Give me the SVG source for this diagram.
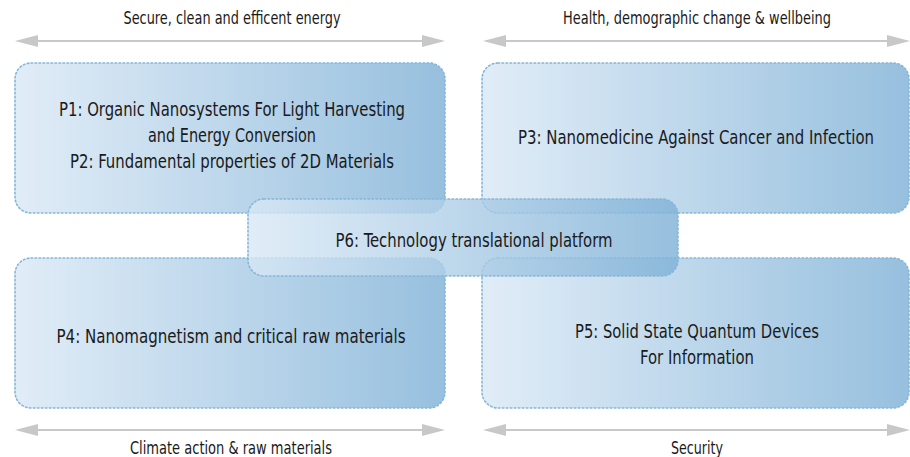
<svg xmlns="http://www.w3.org/2000/svg" width="910" height="457" viewBox="0 0 910 457">
<defs>
<linearGradient id="g" x1="0" y1="0" x2="1" y2="0">
<stop offset="0" stop-color="#d9e8f5" stop-opacity="0.8"/>
<stop offset="1" stop-color="#80b2d7" stop-opacity="0.82"/>
</linearGradient>
<style>
.box{fill:url(#g);stroke:#86b6d8;stroke-width:1.6;stroke-dasharray:1.6 2.4;stroke-linecap:round}
.t{font-family:"DejaVu Sans Condensed","Liberation Sans Narrow","Roboto",sans-serif;fill:#1a1a1a;text-anchor:middle}
.nt{font-size:19.5px}
.lt{font-size:17px}
.ar{stroke:#c8c8c8;stroke-width:2;fill:none}
.ah{fill:#c8c8c8}
</style>
</defs>
<rect width="910" height="457" fill="#ffffff"/>
<g id="connectors">
<g id="arrow-top-left"><line class="ar" x1="30" y1="41" x2="430" y2="41"/><polygon class="ah" points="15,41 38,35 38,47"/><polygon class="ah" points="445,41 422,35 422,47"/></g>
<g id="arrow-top-right"><line class="ar" x1="498" y1="41" x2="895" y2="41"/><polygon class="ah" points="483,41 506,35 506,47"/><polygon class="ah" points="910,41 887,35 887,47"/></g>
<g id="arrow-bottom-left"><line class="ar" x1="30" y1="430" x2="430" y2="430"/><polygon class="ah" points="15,430 38,424 38,436"/><polygon class="ah" points="445,430 422,424 422,436"/></g>
<g id="arrow-bottom-right"><line class="ar" x1="498" y1="430" x2="895" y2="430"/><polygon class="ah" points="483,430 506,424 506,436"/><polygon class="ah" points="910,430 887,424 887,436"/></g>
</g>
<g id="label-top-left"><text class="t lt" x="232" y="24" textLength="217" lengthAdjust="spacingAndGlyphs">Secure, clean and efficent energy</text></g>
<g id="label-top-right"><text class="t lt" x="697" y="24" textLength="268" lengthAdjust="spacingAndGlyphs">Health, demographic change &amp; wellbeing</text></g>
<g id="label-bottom-left"><text class="t lt" x="231" y="454" textLength="202" lengthAdjust="spacingAndGlyphs">Climate action &amp; raw materials</text></g>
<g id="label-bottom-right"><text class="t lt" x="697" y="454" textLength="52" lengthAdjust="spacingAndGlyphs">Security</text></g>
<g id="P1P2"><rect class="box" x="15" y="63" width="430" height="150" rx="16"/>
<text class="t nt" x="232" y="116" textLength="346" lengthAdjust="spacingAndGlyphs">P1: Organic Nanosystems For Light Harvesting</text>
<text class="t nt" x="232" y="142" textLength="168" lengthAdjust="spacingAndGlyphs">and Energy Conversion</text>
<text class="t nt" x="232" y="168" textLength="324" lengthAdjust="spacingAndGlyphs">P2: Fundamental properties of 2D Materials</text></g>
<g id="P3"><rect class="box" x="482" y="63" width="427" height="150" rx="16"/>
<text class="t nt" x="696" y="144" textLength="356" lengthAdjust="spacingAndGlyphs">P3: Nanomedicine Against Cancer and Infection</text></g>
<g id="P4"><rect class="box" x="15" y="258" width="430" height="150" rx="16"/>
<text class="t nt" x="231" y="343" textLength="349" lengthAdjust="spacingAndGlyphs">P4: Nanomagnetism and critical raw materials</text></g>
<g id="P5"><rect class="box" x="482" y="258" width="427" height="150" rx="16"/>
<text class="t nt" x="697" y="338" textLength="244" lengthAdjust="spacingAndGlyphs">P5: Solid State Quantum Devices</text>
<text class="t nt" x="697" y="364" textLength="114" lengthAdjust="spacingAndGlyphs">For Information</text></g>
<g id="P6"><rect class="box" x="248" y="199" width="430" height="77" rx="16"/>
<text class="t nt" x="474" y="247" textLength="277" lengthAdjust="spacingAndGlyphs">P6: Technology translational platform</text></g>
</svg>
